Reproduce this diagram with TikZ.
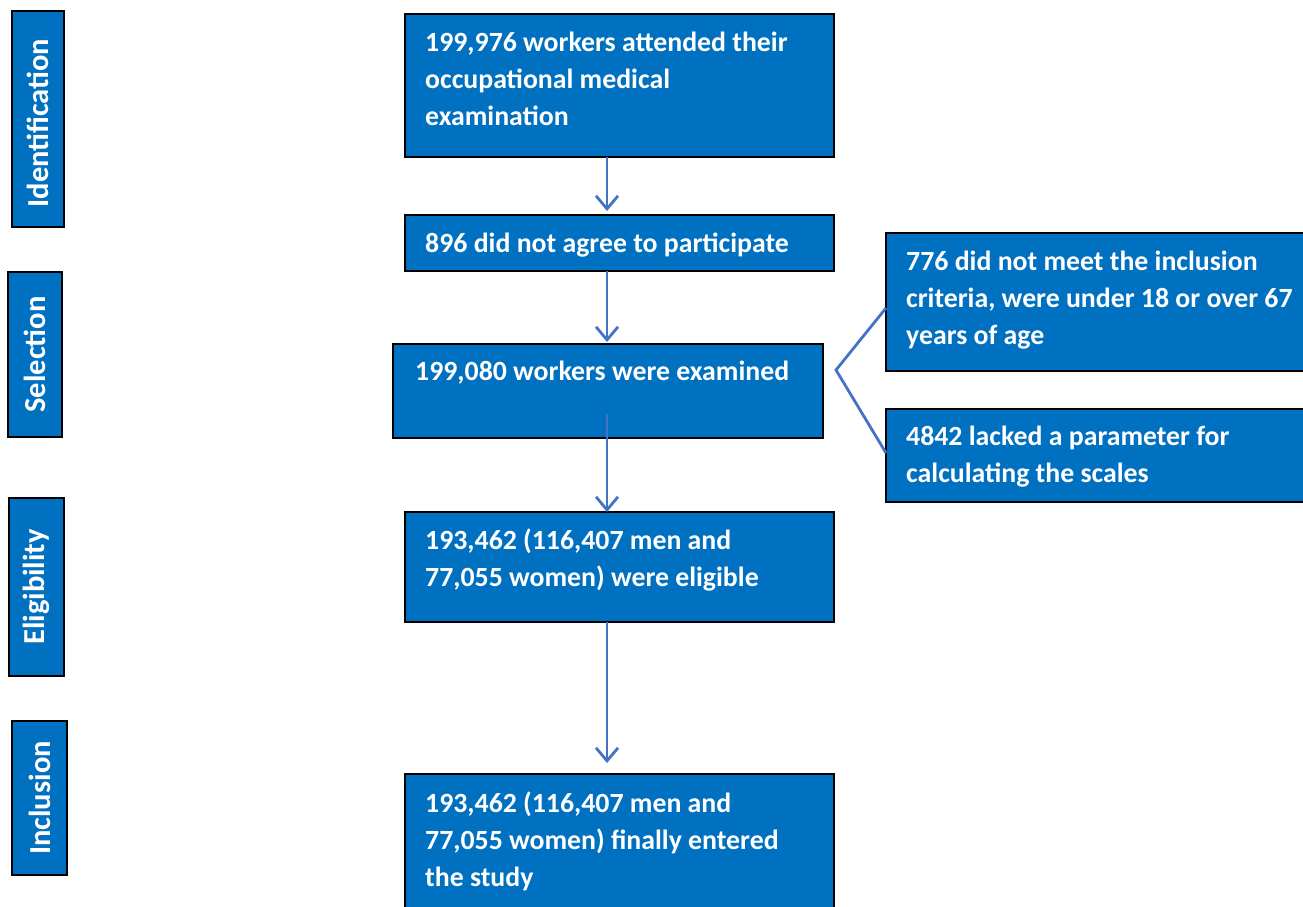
\documentclass[tikz,border=0pt]{standalone}
\usepackage{fontspec}
\setmainfont{Carlito}
\usetikzlibrary{arrows.meta,calc}
\definecolor{boxblue}{RGB}{0,112,192}
\definecolor{arrowblue}{RGB}{68,114,196}
\tikzset{
  box/.style={draw=black, line width=2.5pt, fill=boxblue, inner sep=0pt, outer sep=0pt},
  txt/.style={anchor=north west, text=white, font=\fontsize{27.8}{37}\selectfont\bfseries, align=left, inner sep=0pt},
  side/.style={text=white, font=\fontsize{30.5}{32}\selectfont\bfseries, rotate=90, inner sep=0pt},
  arr/.style={draw=arrowblue, line width=2.8pt, -{Straight Barb[length=13pt,width=22pt,line width=2.8pt]}},
  link/.style={draw=arrowblue, line width=2.8pt}
}
\begin{document}
\begin{tikzpicture}[x=1pt,y=-1pt]
\useasboundingbox (0,0) rectangle (1303,906);
\clip (0,0) rectangle (1303,906);
% side labels
\node[box, minimum width=52pt, minimum height=216pt] (id) at (38,119) {};
\node[side] (idt) at ([yshift=-4pt]id.center) {Identification};
\node[box, minimum width=54pt, minimum height=165pt] (sel) at (35,354.5) {};
\node[side] (selt) at (sel.center) {Selection};
\node[box, minimum width=55pt, minimum height=178pt] (el) at (36.5,587) {};
\node[side] (elt) at (el.center) {Eligibility};
\node[box, minimum width=55pt, minimum height=154pt] (inc) at (39.5,798) {};
\node[side] (inct) at (inc.center) {Inclusion};
% main boxes
\node[box, minimum width=429pt, minimum height=143pt] (b1) at (619.5,85.5) {};
\node[txt] (t1) at ($(b1.north west)+(20,18)$) {199,976 workers attended their\\occupational medical\\examination};
\node[box, minimum width=429pt, minimum height=56pt] (b2) at (619.5,243) {};
\node[txt] (t2) at ($(b2.north west)+(20,18)$) {896 did not agree to participate};
\node[box, minimum width=430pt, minimum height=94pt] (b3) at (608,391) {};
\node[txt] (t3) at ($(b3.north west)+(22,17)$) {199,080 workers were examined};
\node[box, minimum width=429pt, minimum height=110pt] (b4) at (619.5,567) {};
\node[txt] (t4) at ($(b4.north west)+(20,17)$) {193,462 (116,407 men and\\77,055 women) were eligible};
\node[box, minimum width=429pt, minimum height=141pt] (b5) at (619.5,844.5) {};
\node[txt] (t5) at ($(b5.north west)+(20,18)$) {193,462 (116,407 men and\\77,055 women) finally entered\\the study};
% right boxes
\node[box, minimum width=430pt, minimum height=138pt] (r1) at (1101,302) {};
\node[txt] (rt1) at ($(r1.north west)+(20,18)$) {776 did not meet the inclusion\\criteria, were under 18 or over 67\\years of age};
\node[box, minimum width=430pt, minimum height=93pt] (r2) at (1101,455.5) {};
\node[txt] (rt2) at ($(r2.north west)+(20,17)$) {4842 lacked a parameter for\\calculating the scales};
% connectors
\coordinate (ax) at (607,0);
\coordinate (b3in) at (607,414);
\coordinate (v) at (836,370);
\coordinate (ya) at (0,308);
\coordinate (yb) at (0,453);
\draw[arr] (b1.south -| ax) -- ([yshift=4pt]b2.north -| ax);
\draw[arr] (b2.south -| ax) -- ([yshift=2pt]b3.north -| ax);
\draw[arr] (b3in) -- (b4.north -| ax);
\draw[arr] (b4.south -| ax) -- ([yshift=11pt]b5.north -| ax);
\draw[link] (r1.west |- ya) -- (v) -- (r2.west |- yb);
\end{tikzpicture}
\end{document}
